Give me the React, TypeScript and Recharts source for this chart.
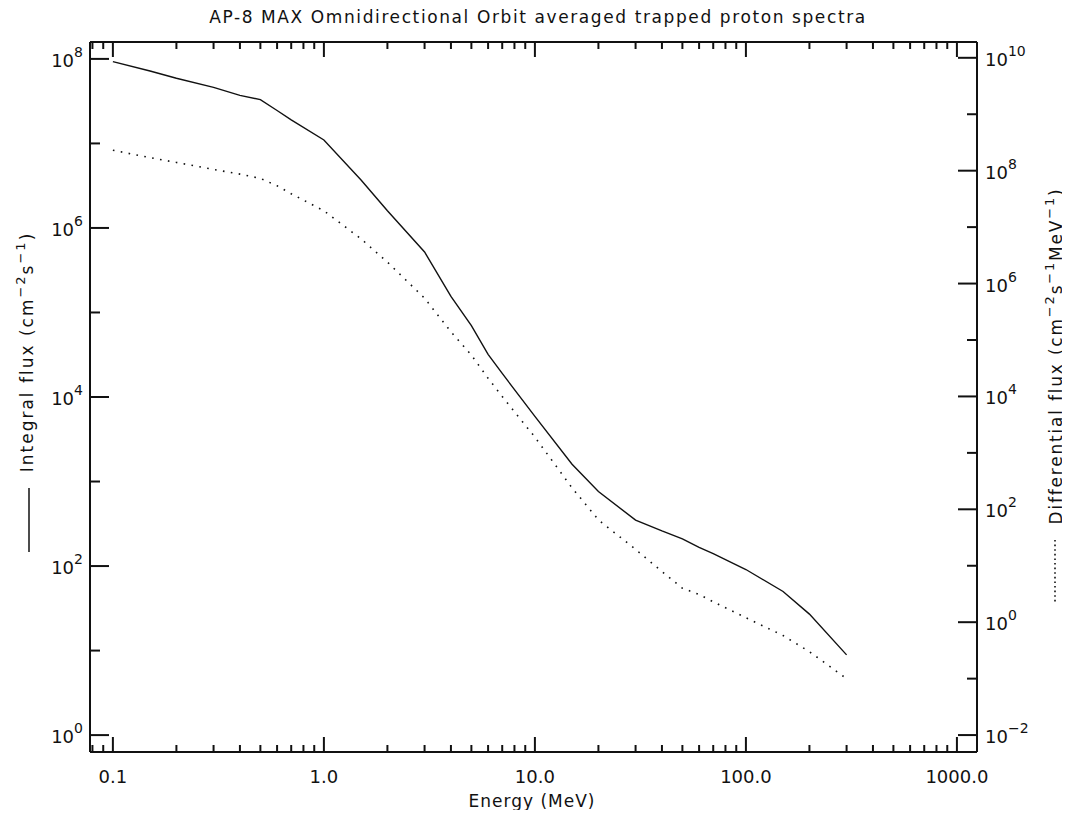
import React from 'react';
import { LineChart, Line, XAxis, YAxis } from 'recharts';

// energies (MeV) and fluxes
const energy = [0.1, 0.15, 0.2, 0.3, 0.4, 0.5, 0.6, 0.7, 1, 1.5, 2, 3, 4, 5, 6, 7, 10, 15, 20, 30, 40, 50, 60, 70, 100, 150, 200, 300];
const integralFlux = [
  9.3e7, 7.2e7, 5.9e7, 4.6e7, 3.7e7, 3.3e7, 2.45e7, 1.9e7, 1.1e7, 3.7e6, 1.6e6, 5.2e5, 1.55e5, 7.0e4,
  3.2e4, 1.9e4, 5.9e3, 1.6e3, 760, 350, 260, 210, 166, 140, 91, 50, 27, 8.9,
];
const differentialFlux = [
  2.3e8, 1.7e8, 1.4e8, 1.05e8, 8.7e7, 7.3e7, 5.4e7, 3.9e7, 1.95e7, 6.2e6, 2.4e6, 5.5e5, 1.4e5, 5.4e4,
  2.1e4, 1.0e4, 1.9e3, 240, 65, 19.5, 7.9, 4.0, 3.1, 2.3, 1.2, 0.58, 0.3, 0.1,
];

const xTicks = [
  0.08, 0.09, 0.1, 0.2, 0.3, 0.4, 0.5, 0.6, 0.7, 0.8, 0.9, 1, 2, 3, 4, 5, 6, 7, 8, 9, 10, 20, 30, 40, 50, 60, 70, 80, 90,
  100, 200, 300, 400, 500, 600, 700, 800, 900, 1000,
];
const leftTicks = [1, 10, 1e2, 1e3, 1e4, 1e5, 1e6, 1e7, 1e8];
const rightTicks = [1e-2, 1e-1, 1, 10, 1e2, 1e3, 1e4, 1e5, 1e6, 1e7, 1e8, 1e9, 1e10];

const data = energy.map((e, i) => ({ e, integral: integralFlux[i], differential: differentialFlux[i] }));

const FONT = '"DejaVu Sans", sans-serif';
const INK = '#111';

const isDecade = (v: number) => Math.abs(Math.log10(v) - Math.round(Math.log10(v))) < 1e-6;
const xLabel = (v: number) => (v < 1 ? v.toString() : v.toFixed(1));
const expText = (n: number) => (n < 0 ? `\u2212${-n}` : `${n}`);

const BottomTick = ({ x, y, payload }: any) => {
  const major = isDecade(payload.value);
  return (
    <g>
      <line x1={x} x2={x} y1={y} y2={y - (major ? 15 : 7)} stroke={INK} strokeWidth={2} />
      {major && (
        <text x={x} y={y + 31} textAnchor="middle" fontSize={18} fontFamily={FONT} fill={INK}>
          {xLabel(payload.value)}
        </text>
      )}
    </g>
  );
};

const TopTick = ({ x, y, payload }: any) => {
  const major = isDecade(payload.value);
  return <line x1={x} x2={x} y1={y} y2={y + (major ? 15 : 7)} stroke={INK} strokeWidth={2} />;
};

const LeftTick = ({ x, y, payload }: any) => {
  const exp = Math.round(Math.log10(payload.value));
  const major = exp % 2 === 0;
  return (
    <g>
      <line x1={x} x2={x + (major ? 19 : 10)} y1={y} y2={y} stroke={INK} strokeWidth={2} />
      {major && (
        <text x={x - 7} y={y + 8} textAnchor="end" fontSize={18} fontFamily={FONT} fill={INK}>
          10
          <tspan dy={-10} fontSize={14}>{expText(exp)}</tspan>
        </text>
      )}
    </g>
  );
};

const RightTick = ({ x, y, payload }: any) => {
  const exp = Math.round(Math.log10(payload.value));
  const major = exp % 2 === 0;
  return (
    <g>
      <line x1={x} x2={x - (major ? 19 : 10)} y1={y} y2={y} stroke={INK} strokeWidth={2} />
      {major && (
        <text x={x + 8} y={y + 8} textAnchor="start" fontSize={18} fontFamily={FONT} fill={INK}>
          10
          <tspan dy={-10} fontSize={14}>{expText(exp)}</tspan>
        </text>
      )}
    </g>
  );
};

export default function App() {
  const W = 1054;
  const H = 802;
  return (
    <div style={{ position: 'relative', width: W, height: H, background: '#fff', fontFamily: FONT }}>
      <LineChart width={W} height={H} data={data} margin={{ top: 4, right: 0, bottom: 0, left: 0 }}>
        <XAxis
          dataKey="e"
          type="number"
          scale="log"
          domain={[0.0779, 1245]}
          ticks={xTicks}
          interval={0}
          allowDataOverflow
          height={58}
          tickSize={0}
          tickMargin={0}
          tickLine={false}
          tick={<BottomTick />}
          axisLine={{ stroke: INK, strokeWidth: 2 }}
        />
        <XAxis
          xAxisId="top"
          orientation="top"
          dataKey="e"
          type="number"
          scale="log"
          domain={[0.0779, 1245]}
          ticks={xTicks}
          interval={0}
          allowDataOverflow
          height={30}
          tickSize={0}
          tickMargin={0}
          tickLine={false}
          tick={<TopTick />}
          axisLine={{ stroke: INK, strokeWidth: 2 }}
        />
        <YAxis
          yAxisId="left"
          type="number"
          scale="log"
          domain={[Math.pow(10, -0.2), Math.pow(10, 8.2)]}
          ticks={leftTicks}
          interval={0}
          allowDataOverflow
          width={82}
          tickSize={0}
          tickMargin={0}
          tickLine={false}
          tick={<LeftTick />}
          axisLine={{ stroke: INK, strokeWidth: 2 }}
        />
        <YAxis
          yAxisId="right"
          orientation="right"
          type="number"
          scale="log"
          domain={[Math.pow(10, -2.3), Math.pow(10, 10.28)]}
          ticks={rightTicks}
          interval={0}
          allowDataOverflow
          width={85}
          tickSize={0}
          tickMargin={0}
          tickLine={false}
          tick={<RightTick />}
          axisLine={{ stroke: INK, strokeWidth: 2 }}
        />
        <Line
          yAxisId="left"
          dataKey="integral"
          type="linear"
          stroke={INK}
          strokeWidth={1.4}
          dot={false}
          isAnimationActive={false}
        />
        <Line
          yAxisId="right"
          dataKey="differential"
          type="linear"
          stroke={INK}
          strokeWidth={1.6}
          strokeDasharray="1.6 6.4"
          dot={false}
          isAnimationActive={false}
        />
      </LineChart>
      <svg
        width={1062}
        height={810}
        style={{ position: 'absolute', left: 0, top: 0, pointerEvents: 'none', overflow: 'visible' }}
      >
        <text x={530} y={15} textAnchor="middle" fontSize={17} letterSpacing={1.6} fontFamily={FONT} fill={INK}>
          AP-8 MAX Omnidirectional Orbit averaged trapped proton spectra
        </text>
        <text x={524} y={799} textAnchor="middle" fontSize={17} letterSpacing={1} fontFamily={FONT} fill={INK}>
          Energy (MeV)
        </text>
        <g transform="translate(25, 344) rotate(-90)">
          <text x={0} y={0} textAnchor="middle" fontSize={17} letterSpacing={2} fontFamily={FONT} fill={INK}>
            Integral flux (cm
            <tspan dy={-8} fontSize={13}>{'\u22122'}</tspan>
            <tspan dy={8}>s</tspan>
            <tspan dy={-8} fontSize={13}>{'\u22121'}</tspan>
            <tspan dy={8}>)</tspan>
          </text>
        </g>
        <line x1={21} x2={21} y1={480} y2={544} stroke={INK} strokeWidth={1.5} />
        <g transform="translate(1054, 348) rotate(-90)">
          <text x={0} y={0} textAnchor="middle" fontSize={17} letterSpacing={1.8} fontFamily={FONT} fill={INK}>
            Differential flux (cm
            <tspan dy={-8} fontSize={13}>{'\u22122'}</tspan>
            <tspan dy={8}>s</tspan>
            <tspan dy={-8} fontSize={13}>{'\u22121'}</tspan>
            <tspan dy={8}>MeV</tspan>
            <tspan dy={-8} fontSize={13}>{'\u22121'}</tspan>
            <tspan dy={8}>)</tspan>
          </text>
        </g>
        <line x1={1047} x2={1047} y1={532} y2={595} stroke={INK} strokeWidth={1.6} strokeDasharray="1.6 3" />
      </svg>
    </div>
  );
}
